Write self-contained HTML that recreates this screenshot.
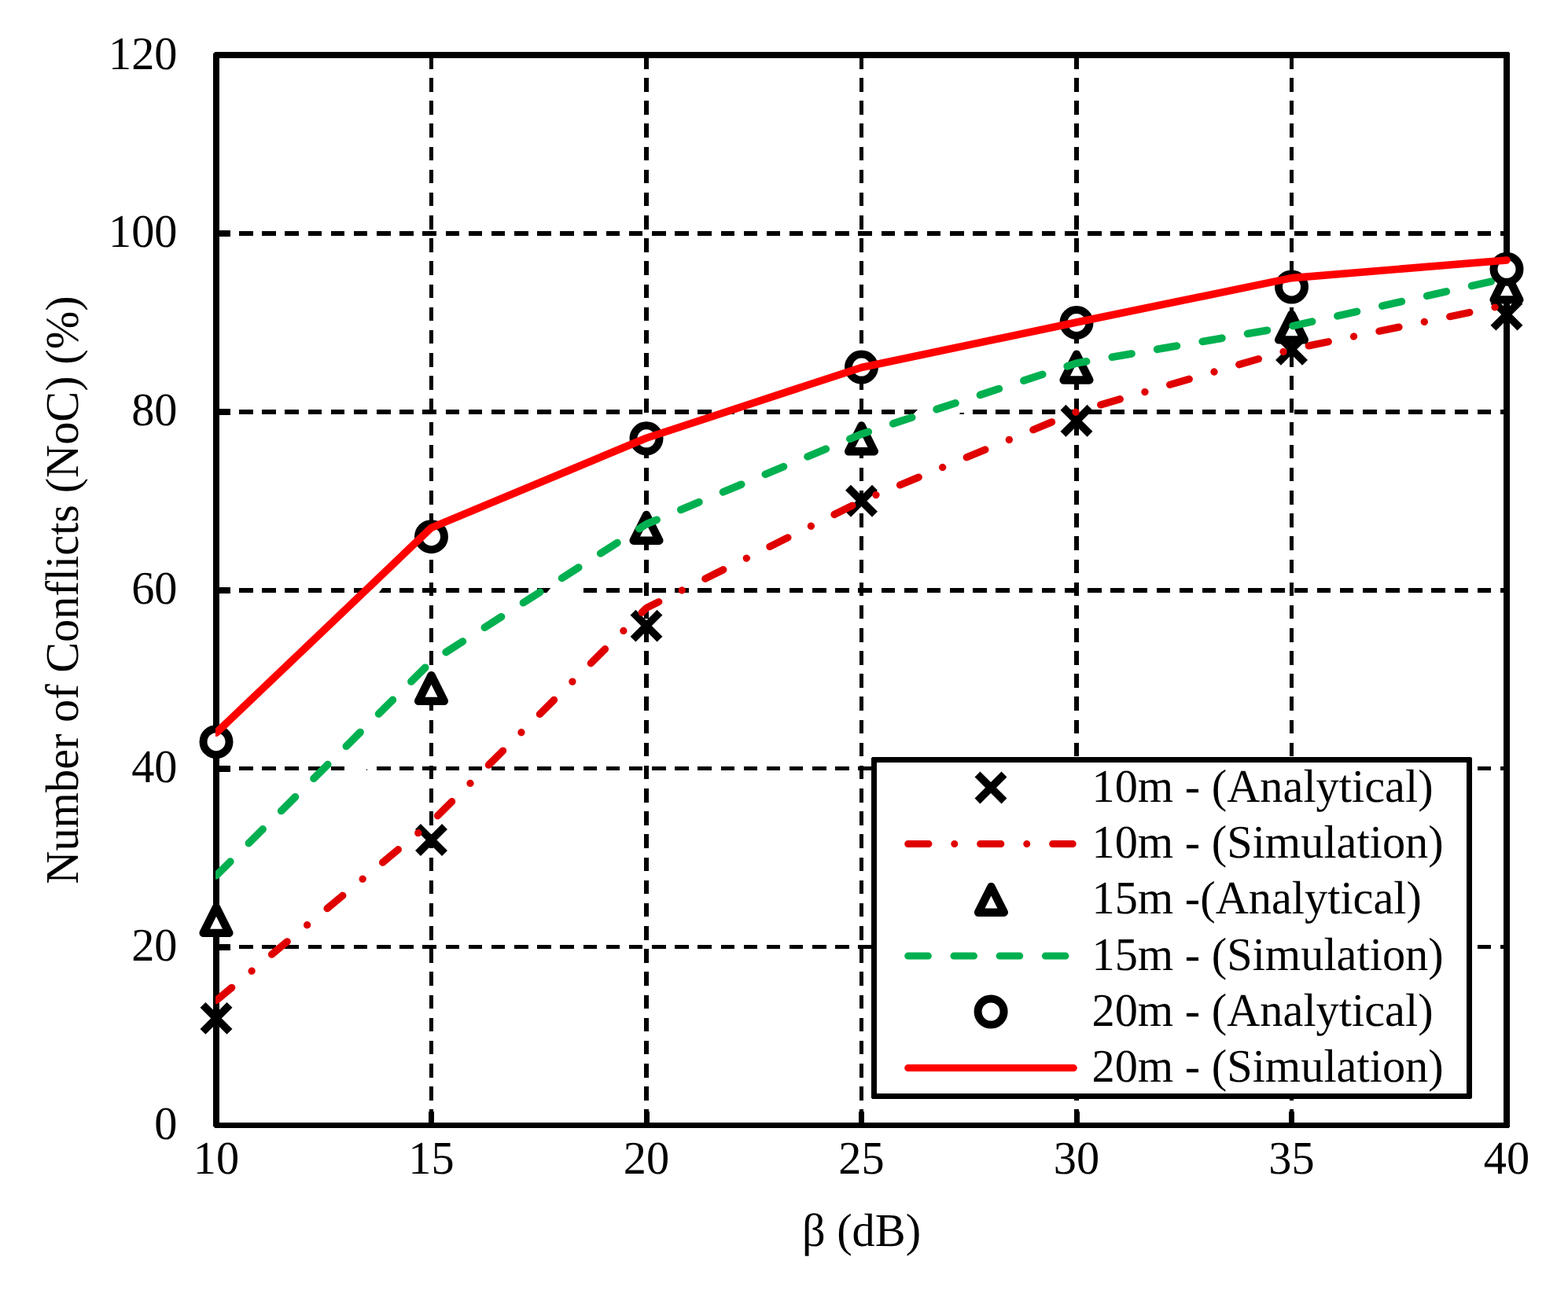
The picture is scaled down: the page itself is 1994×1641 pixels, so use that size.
<!DOCTYPE html>
<html lang="en"><head><meta charset="utf-8"><title>Number of Conflicts (NoC) vs β</title>
<style>html,body{margin:0;padding:0;background:#fff}body{width:1994px;height:1641px;overflow:hidden}svg{display:block}text{font-family:"Liberation Serif",serif;font-size:58.33px;fill:#000}</style></head><body>
<svg width="1994" height="1641" viewBox="0 0 1994 1641" shape-rendering="crispEdges" text-rendering="geometricPrecision">
<defs><clipPath id="cl"><rect x="274" y="60" width="1660" height="1380"/></clipPath></defs>
<rect x="0" y="0" width="1994" height="1641" fill="#fff"/>
<g stroke="#000" stroke-width="5.60" fill="none" stroke-dasharray="17.5 11.66">
<line x1="548.50" y1="70.00" x2="548.50" y2="1431.50"/>
<line x1="822.00" y1="70.00" x2="822.00" y2="1431.50"/>
<line x1="1095.50" y1="70.00" x2="1095.50" y2="1431.50"/>
<line x1="1369.00" y1="70.00" x2="1369.00" y2="1431.50"/>
<line x1="1642.50" y1="70.00" x2="1642.50" y2="1431.50"/>
<line x1="275.00" y1="296.92" x2="1916.00" y2="296.92"/>
<line x1="275.00" y1="523.83" x2="1916.00" y2="523.83"/>
<line x1="275.00" y1="750.75" x2="1916.00" y2="750.75"/>
<line x1="275.00" y1="977.67" x2="1916.00" y2="977.67"/>
<line x1="275.00" y1="1204.58" x2="1916.00" y2="1204.58"/>
</g>
<g fill="#fff" shape-rendering="geometricPrecision">
<path d="M1161 527.3 L1167.5 520.4 L1226 520.4 L1226 525 L1220.5 525 L1220.5 527.3 Z"/>
<path d="M695.2 754.3 L700.6 747.4 L736 747.4 L736 754.3 Z"/>
<path d="M476 747.4 L486.6 747.4 L481.6 754.3 L476 754.3 Z"/>
<path d="M449 974 L468.5 974 L468.5 978 L466.5 978.3 L464.8 981.5 L449 981.5 Z"/>
</g>
<path fill="#000" fill-rule="evenodd" d="M273 66 L1918 66 L1920 68 L1920 1433 L1918 1435 L273 1435 L271 1433 L271 68 Z M279 74 L1912 74 L1912 1428 L279 1428 Z"/>
<g stroke="#000" fill="none">
<line x1="275.00" y1="296.92" x2="293.00" y2="296.92" stroke-width="8"/>
<line x1="275.00" y1="523.83" x2="293.00" y2="523.83" stroke-width="8"/>
<line x1="275.00" y1="750.75" x2="293.00" y2="750.75" stroke-width="8"/>
<line x1="275.00" y1="977.67" x2="293.00" y2="977.67" stroke-width="8"/>
<line x1="275.00" y1="1204.58" x2="293.00" y2="1204.58" stroke-width="8"/>
<line x1="548.50" y1="1431.50" x2="548.50" y2="1414.30" stroke-width="7"/>
<line x1="822.00" y1="1431.50" x2="822.00" y2="1414.30" stroke-width="7"/>
<line x1="1095.50" y1="1431.50" x2="1095.50" y2="1414.30" stroke-width="7"/>
<line x1="1369.00" y1="1431.50" x2="1369.00" y2="1414.30" stroke-width="7"/>
<line x1="1642.50" y1="1431.50" x2="1642.50" y2="1414.30" stroke-width="7"/>
</g>
<g shape-rendering="geometricPrecision">
<path d="M258.00 1278.35 L292.00 1312.35 M258.00 1312.35 L292.00 1278.35" stroke="#000" stroke-width="9.80" fill="none"/>
<path d="M531.50 1051.43 L565.50 1085.43 M531.50 1085.43 L565.50 1051.43" stroke="#000" stroke-width="9.80" fill="none"/>
<path d="M805.00 779.13 L839.00 813.13 M805.00 813.13 L839.00 779.13" stroke="#000" stroke-width="9.80" fill="none"/>
<path d="M1078.50 620.29 L1112.50 654.29 M1078.50 654.29 L1112.50 620.29" stroke="#000" stroke-width="9.80" fill="none"/>
<path d="M1352.00 518.18 L1386.00 552.18 M1352.00 552.18 L1386.00 518.18" stroke="#000" stroke-width="9.80" fill="none"/>
<path d="M1625.50 427.41 L1659.50 461.41 M1625.50 461.41 L1659.50 427.41" stroke="#000" stroke-width="9.80" fill="none"/>
<path d="M1899.00 383.16 L1933.00 417.16 M1899.00 417.16 L1933.00 383.16" stroke="#000" stroke-width="9.80" fill="none"/>
<polyline points="275.00,1272.66 548.50,1045.74 822.00,773.44 1095.50,637.29 1369.00,523.83 1642.50,444.41 1916.00,387.68" fill="none" stroke="#e00000" stroke-width="9.30" stroke-linecap="round" stroke-linejoin="round" stroke-dasharray="25.6 33.0 0.01 33.05" clip-path="url(#cl)"/>
<path d="M275.00 1154.20 L291.35 1186.90 L258.65 1186.90 Z" stroke="#000" stroke-width="10.40" fill="#fff" stroke-linejoin="round"/>
<path d="M548.50 859.20 L564.85 891.90 L532.15 891.90 Z" stroke="#000" stroke-width="10.40" fill="#fff" stroke-linejoin="round"/>
<path d="M822.00 654.98 L838.35 687.68 L805.65 687.68 Z" stroke="#000" stroke-width="10.40" fill="#fff" stroke-linejoin="round"/>
<path d="M1095.50 541.52 L1111.85 574.22 L1079.15 574.22 Z" stroke="#000" stroke-width="10.40" fill="#fff" stroke-linejoin="round"/>
<path d="M1369.00 450.75 L1385.35 483.45 L1352.65 483.45 Z" stroke="#000" stroke-width="10.40" fill="#fff" stroke-linejoin="round"/>
<path d="M1642.50 399.70 L1658.85 432.40 L1626.15 432.40 Z" stroke="#000" stroke-width="10.40" fill="#fff" stroke-linejoin="round"/>
<path d="M1916.00 348.64 L1932.35 381.34 L1899.65 381.34 Z" stroke="#000" stroke-width="10.40" fill="#fff" stroke-linejoin="round"/>
<polyline points="275.00,1113.82 548.50,841.52 822.00,666.79 1095.50,552.20 1369.00,462.00 1642.50,414.91 1916.00,353.65" fill="none" stroke="#00b050" stroke-width="9.60" stroke-linecap="round" stroke-linejoin="round" stroke-dasharray="25.2 33.1" clip-path="url(#cl)"/>
<circle cx="275.00" cy="943.63" r="16.50" stroke="#000" stroke-width="10.00" fill="#fff"/>
<circle cx="548.50" cy="682.67" r="16.50" stroke="#000" stroke-width="10.00" fill="#fff"/>
<circle cx="822.00" cy="557.87" r="16.50" stroke="#000" stroke-width="10.00" fill="#fff"/>
<circle cx="1095.50" cy="467.10" r="16.50" stroke="#000" stroke-width="10.00" fill="#fff"/>
<circle cx="1369.00" cy="410.38" r="16.50" stroke="#000" stroke-width="10.00" fill="#fff"/>
<circle cx="1642.50" cy="364.99" r="16.50" stroke="#000" stroke-width="10.00" fill="#fff"/>
<circle cx="1916.00" cy="342.30" r="16.50" stroke="#000" stroke-width="10.00" fill="#fff"/>
<polyline points="275.00,932.28 548.50,671.33 822.00,557.30 1095.50,467.44 1369.00,410.03 1642.50,353.65 1916.00,330.95" fill="none" stroke="#ff0000" stroke-width="9.60" stroke-linecap="round" stroke-linejoin="round" clip-path="url(#cl)"/>
</g>
<path fill="#fff" d="M1109 964 H1871 V1397 H1109 Z"/>
<path fill="#000" fill-rule="evenodd" d="M1109.5 963 L1870.5 963 L1872 964.5 L1872 1396.5 L1870.5 1398 L1109.5 1398 L1108 1396.5 L1108 964.5 Z M1115 970 L1865 970 L1865 1391 L1115 1391 Z"/>
<g shape-rendering="geometricPrecision">
<path d="M1243.00 985.00 L1277.00 1019.00 M1243.00 1019.00 L1277.00 985.00" stroke="#000" stroke-width="9.80" fill="none"/>
<line x1="1154.7" y1="1073.50" x2="1364.2" y2="1073.50" stroke="#e00000" stroke-width="9.00" stroke-linecap="round" stroke-dasharray="26.2 32.9 0.01 32.85"/>
<path d="M1260.45 1128.00 L1276.80 1160.70 L1244.10 1160.70 Z" stroke="#000" stroke-width="10.40" fill="#fff" stroke-linejoin="round"/>
<line x1="1154.7" y1="1216.10" x2="1356" y2="1216.10" stroke="#00b050" stroke-width="9.00" stroke-linecap="round" stroke-dasharray="25.7 32.5"/>
<circle cx="1260.10" cy="1287.00" r="16.50" stroke="#000" stroke-width="10.00" fill="#fff"/>
<line x1="1154.7" y1="1358.60" x2="1365.3" y2="1358.60" stroke="#ff0000" stroke-width="9.00" stroke-linecap="round"/>
</g>
<text transform="translate(1388.50 1019.50) scale(1 1.020)" text-anchor="start">10m - (Analytical)</text>
<text transform="translate(1388.50 1091.00) scale(1 1.020)" text-anchor="start">10m - (Simulation)</text>
<text transform="translate(1388.50 1161.85) scale(1 1.020)" text-anchor="start">15m -(Analytical)</text>
<text transform="translate(1388.50 1233.60) scale(1 1.020)" text-anchor="start">15m - (Simulation)</text>
<text transform="translate(1388.50 1304.50) scale(1 1.020)" text-anchor="start">20m - (Analytical)</text>
<text transform="translate(1388.50 1376.10) scale(1 1.020)" text-anchor="start">20m - (Simulation)</text>
<text transform="translate(225.50 1449.00) scale(1 1.020)" text-anchor="end">0</text>
<text transform="translate(225.50 1222.08) scale(1 1.020)" text-anchor="end">20</text>
<text transform="translate(225.50 995.17) scale(1 1.020)" text-anchor="end">40</text>
<text transform="translate(225.50 768.25) scale(1 1.020)" text-anchor="end">60</text>
<text transform="translate(225.50 541.33) scale(1 1.020)" text-anchor="end">80</text>
<text transform="translate(225.50 314.42) scale(1 1.020)" text-anchor="end">100</text>
<text transform="translate(225.50 87.50) scale(1 1.020)" text-anchor="end">120</text>
<text transform="translate(275.00 1492.80) scale(1 1.020)" text-anchor="middle">10</text>
<text transform="translate(548.50 1492.80) scale(1 1.020)" text-anchor="middle">15</text>
<text transform="translate(822.00 1492.80) scale(1 1.020)" text-anchor="middle">20</text>
<text transform="translate(1095.50 1492.80) scale(1 1.020)" text-anchor="middle">25</text>
<text transform="translate(1369.00 1492.80) scale(1 1.020)" text-anchor="middle">30</text>
<text transform="translate(1642.50 1492.80) scale(1 1.020)" text-anchor="middle">35</text>
<text transform="translate(1916.00 1492.80) scale(1 1.020)" text-anchor="middle">40</text>
<text transform="translate(1095.50 1585.30) scale(1 1.020)" text-anchor="middle">β (dB)</text>
<text transform="translate(99.30 750.50) rotate(-90) scale(1 1.020)" text-anchor="middle">Number of Conflicts (NoC) (%)</text>
</svg></body></html>
